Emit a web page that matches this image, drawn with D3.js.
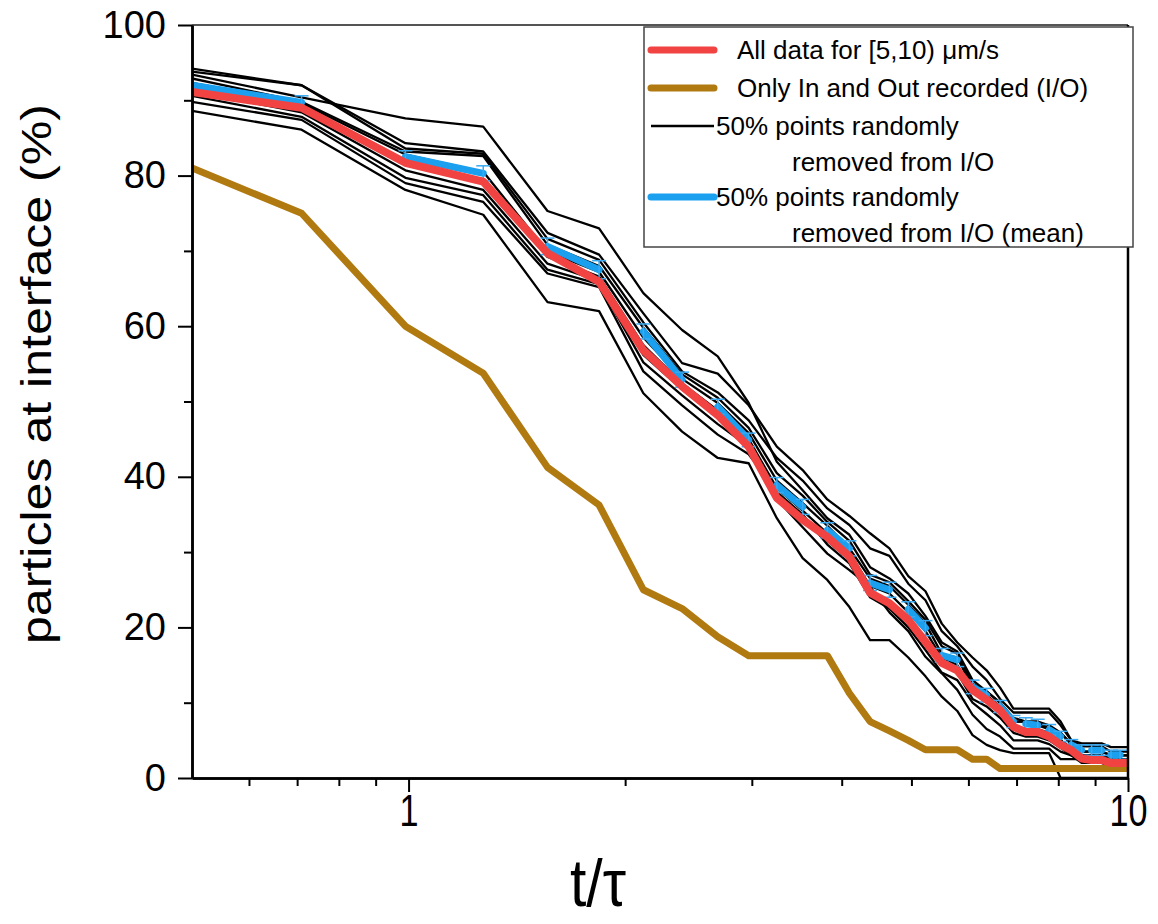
<!DOCTYPE html>
<html>
<head>
<meta charset="utf-8">
<script src="https://cdn.jsdelivr.net/npm/d3@7"></script>
<style>
  body { margin: 0; background: #fff; }
  svg { display: block; }
  text { font-family: "Liberation Sans", Arial, sans-serif; fill: #000; }
</style>
</head>
<body>
<div id="chart"></div>
<script>
// Data________________________________________________________________
// time points t/tau (first and last are the axis edges)
const tValues = [0.5, 0.71, 0.99, 1.27, 1.56, 1.84, 2.12, 2.40, 2.69, 2.97, 3.25, 3.53, 3.82, 4.10, 4.38,
  4.66, 4.95, 5.23, 5.51, 5.79, 6.08, 6.36, 6.64, 6.93, 7.21, 7.49, 7.77, 8.06, 8.34, 8.62, 8.90, 9.19, 9.47, 9.75, 10.0];

const allData = [91.1, 89.0, 81.7, 79.2, 69.7, 65.9, 56.8, 52.0, 48.2, 44.0, 37.2, 34.3, 32.0, 29.4, 24.6,
  23.2, 21.0, 18.1, 15.3, 14.3, 11.7, 10.4, 9.0, 6.8, 6.1, 6.1, 5.5, 4.4, 3.7, 2.6, 2.4, 2.4, 2.0, 2.0, 2.0];

const ioOnly = [81.0, 75.0, 60.0, 53.75, 41.25, 36.25, 25.0, 22.5, 18.75, 16.25, 16.25, 16.25, 16.25, 11.25, 7.5,
  6.25, 5.0, 3.75, 3.75, 3.75, 2.5, 2.5, 1.25, 1.25, 1.25, 1.25, 1.25, 1.25, 1.25, 1.25, 1.25, 1.25, 1.25, 1.25, 1.25];

const removedMean = [92.0, 89.7, 82.5, 80.3, 70.6, 67.5, 59.3, 52.9, 49.3, 44.9, 38.9, 36.0, 32.9, 30.5, 25.9,
  25.0, 22.4, 19.9, 16.3, 15.7, 12.1, 11.0, 9.5, 7.5, 7.2, 7.0, 6.4, 5.5, 4.4, 3.7, 3.7, 3.7, 3.1, 3.1, 3.1];

const removedErr = [null, 0.9, 0.8, 1.0, 1.1, 1.2, 1.0, 1.0, 1.0, 0.9, 1.0, 1.0, 1.0, 1.0, 1.0,
  1.0, 1.0, 1.0, 0.9, 0.9, 0.9, 0.9, 0.8, 0.8, 0.8, 0.8, 0.7, 0.7, 0.7, 0.7, 0.7, 0.7, 0.6, 0.6, null];

// the individual random removals
const removed1 = [94.2, 92.0, 84.3, 83.2, 72.4, 69.5, 61.7, 55.1, 53.7, 49.5, 44.0, 40.9, 37.0, 34.8, 32.5,
  30.5, 26.8, 24.8, 20.5, 18.0, 16.0, 14.3, 12.0, 9.2, 9.2, 9.2, 9.2, 7.5, 5.0, 4.6, 4.6, 4.6, 4.1, 4.1, 4.1];
const removed2 = [93.8, 92.0, 83.6, 82.9, 71.6, 68.8, 60.5, 54.0, 51.2, 47.5, 42.5, 39.5, 35.8, 33.6, 30.5,
  29.5, 25.8, 23.6, 19.5, 17.5, 14.8, 13.0, 10.5, 8.7, 8.7, 8.7, 8.7, 7.0, 5.0, 4.2, 4.2, 4.2, 3.5, 3.5, 3.5];
const removed3 = [93.4, 90.4, 87.6, 86.5, 75.3, 73.0, 64.4, 59.5, 56.0, 49.8, 42.0, 38.2, 34.5, 32.3, 28.0,
  26.5, 24.5, 21.5, 18.0, 16.8, 13.0, 11.5, 10.0, 8.0, 7.5, 7.5, 7.0, 6.0, 4.5, 3.5, 3.5, 3.5, 3.0, 3.0, 3.0];
const removed4 = [92.9, 89.8, 83.2, 82.6, 70.8, 68.0, 59.8, 53.6, 50.5, 46.5, 40.5, 37.5, 34.0, 31.5, 27.0,
  26.0, 23.5, 21.0, 17.5, 16.5, 12.5, 11.5, 10.0, 7.5, 7.5, 7.5, 6.5, 6.0, 4.5, 3.5, 3.5, 3.5, 3.0, 3.0, 3.0];
const removed5 = [92.3, 89.6, 82.8, 80.5, 69.9, 67.2, 58.5, 53.0, 49.8, 45.8, 39.5, 36.5, 33.5, 30.5, 26.5,
  25.5, 23.0, 20.5, 16.5, 16.0, 12.0, 11.0, 9.5, 7.5, 7.5, 7.0, 6.5, 5.0, 4.0, 3.0, 3.0, 3.0, 2.5, 2.5, 2.5];
const removed6 = [91.8, 89.0, 81.5, 79.5, 69.2, 66.6, 57.5, 52.4, 48.8, 45.0, 38.5, 35.5, 32.5, 30.0, 25.5,
  24.5, 22.0, 19.5, 16.0, 15.0, 11.5, 10.5, 9.0, 7.0, 6.5, 6.5, 6.0, 5.0, 4.0, 3.0, 3.0, 3.0, 2.5, 2.5, 2.5];
const removed7 = [91.2, 88.4, 80.7, 78.1, 68.3, 66.0, 56.2, 51.6, 47.9, 44.2, 37.5, 34.8, 31.5, 29.0, 24.5,
  23.5, 21.0, 18.0, 15.0, 14.0, 10.5, 9.5, 8.0, 6.0, 5.5, 5.5, 5.0, 4.0, 3.0, 2.5, 2.5, 2.5, 2.0, 2.0, 2.0];
const removed8 = [90.6, 87.8, 79.7, 77.4, 67.5, 65.6, 55.2, 50.8, 47.0, 44.0, 37.0, 33.3, 29.8, 27.6, 25.4,
  22.0, 19.5, 16.1, 13.9, 11.7, 8.4, 6.5, 5.5, 3.9, 3.9, 3.9, 3.9, 2.5, 2.5, 2.5, 2.5, 2.5, 2.5, 2.5, 2.5];
const removed9 = [89.8, 87.4, 79.0, 76.5, 67.0, 65.2, 54.0, 49.5, 45.6, 43.0, 38.0, 35.0, 31.0, 28.5, 24.0,
  22.5, 20.0, 17.0, 14.0, 13.0, 10.0, 8.5, 7.0, 5.0, 5.0, 5.0, 4.5, 3.5, 3.0, 2.0, 2.0, 2.0, 1.5, 1.5, 1.5];
const removed10 = [88.6, 86.1, 78.1, 74.8, 63.2, 62.0, 51.1, 46.0, 42.5, 41.8, 34.5, 29.2, 26.3, 22.7, 18.3,
  18.3, 16.0, 13.5, 10.8, 8.9, 5.7, 4.4, 3.7, 3.3, 3.3, 3.3, 3.3, 0, 0, 0, 0, 0, 0, 0, 0];
const removedRuns = [removed1, removed2, removed3, removed4, removed5, removed6, removed7, removed8, removed9, removed10];

// ticks and labels
const yMajorTicks = [0, 20, 40, 60, 80, 100];
const yMinorTicks = [10, 30, 50, 70, 90];
const xMajorTicks = [1, 10];
const xMinorTicks = [0.6, 0.7, 0.8, 0.9, 2, 3, 4, 5, 6, 7, 8, 9];
const legendLabels = [
  ['All data for [5,10) μm/s'],
  ['Only In and Out recorded (I/O)'],
  ['50% points randomly', 'removed from I/O'],
  ['50% points randomly', 'removed from I/O (mean)']
];

// Layout______________________________________________________________
const svgW = 1158, svgH = 924;
const plotL = 192, plotR = 1128, plotT = 25, plotB = 778;
const colRed = '#f24343', colGold = '#b07a10', colBlue = '#1ba0ef', colBlack = '#000';

const svg = d3.select('#chart').append('svg')
  .attr('width', svgW)
  .attr('height', svgH);

const x = d3.scaleLog().domain([0.5, 10]).range([plotL, plotR]);
const y = d3.scaleLinear().domain([0, 100]).range([plotB, plotT]);

svg.append('defs').append('clipPath').attr('id', 'plot-clip')
  .append('rect')
  .attr('x', plotL).attr('y', plotT - 5)
  .attr('width', plotR - plotL).attr('height', plotB - plotT + 5);

const plot = svg.append('g').attr('clip-path', 'url(#plot-clip)');

const line = d3.line()
  .defined(d => d[1] !== null)
  .x(d => x(d[0]))
  .y(d => y(d[1]));

const pts = vals => tValues.map((t, i) => [t, vals[i]]);

// Lines________________________________________________________________
plot.selectAll('.run')
  .data(removedRuns)
  .enter()
  .append('path')
  .attr('class', 'run')
  .attr('d', d => line(pts(d)))
  .attr('fill', 'none')
  .attr('stroke', colBlack)
  .attr('stroke-width', 2.3)
  .attr('stroke-linejoin', 'round');

plot.append('path')
  .attr('d', line(pts(ioOnly)))
  .attr('fill', 'none')
  .attr('stroke', colGold)
  .attr('stroke-width', 7)
  .attr('stroke-linejoin', 'round');

// the mean is drawn as short pieces, point 2i to point 2i+1
const meanPairs = d3.range(0, tValues.length - 1, 2).map(i => [i, i + 1]);
plot.selectAll('.mean-seg')
  .data(meanPairs)
  .enter()
  .append('path')
  .attr('class', 'mean-seg')
  .attr('d', p => line(p.map(i => [tValues[i], removedMean[i]])))
  .attr('fill', 'none')
  .attr('stroke', colBlue)
  .attr('stroke-width', 7)
  .attr('stroke-linecap', 'round');

const errData = tValues.map((t, i) => ({ t: t, v: removedMean[i], e: removedErr[i] }))
  .filter(d => d.e !== null);
const errG = plot.append('g').attr('stroke', '#3aaaf2').attr('stroke-width', 1.5);
errData.forEach(d => {
  const cx = x(d.t);
  errG.append('line').attr('x1', cx).attr('x2', cx).attr('y1', y(d.v - d.e)).attr('y2', y(d.v + d.e));
  [d.v - d.e, d.v + d.e].forEach(v => {
    errG.append('line').attr('x1', cx - 7).attr('x2', cx + 7).attr('y1', y(v)).attr('y2', y(v));
  });
});

plot.append('path')
  .attr('d', line(pts(allData)))
  .attr('fill', 'none')
  .attr('stroke', colRed)
  .attr('stroke-width', 8)
  .attr('stroke-linejoin', 'round');

// Axes_________________________________________________________________
// frame
svg.append('line').attr('x1', plotL).attr('x2', plotR).attr('y1', plotT).attr('y2', plotT)
  .attr('stroke', '#555').attr('stroke-width', 2);
svg.append('line').attr('x1', plotR).attr('x2', plotR).attr('y1', plotT).attr('y2', plotB)
  .attr('stroke', '#000').attr('stroke-width', 2.5);

const yAxis = svg.append('g')
  .attr('transform', `translate(${plotL},0)`)
  .call(d3.axisLeft(y).tickValues(yMajorTicks).tickSize(14).tickPadding(12).tickSizeOuter(0));
svg.append('g')
  .attr('transform', `translate(${plotL},0)`)
  .call(d3.axisLeft(y).tickValues(yMinorTicks).tickSize(8).tickFormat('').tickSizeOuter(0));

const xAxis = svg.append('g')
  .attr('transform', `translate(0,${plotB})`)
  .call(d3.axisBottom(x).tickValues(xMajorTicks).tickSize(14).tickPadding(2).tickSizeOuter(0)
    .tickFormat(d3.format('d')));
svg.append('g')
  .attr('transform', `translate(0,${plotB})`)
  .call(d3.axisBottom(x).tickValues(xMinorTicks).tickSize(8).tickFormat('').tickSizeOuter(0));

svg.selectAll('.domain').attr('stroke', '#000').attr('stroke-width', 2.5);
svg.selectAll('.tick line').attr('stroke', '#000').attr('stroke-width', 2);

yAxis.selectAll('text')
  .attr('font-size', 38)
  .style('font-family', '"Liberation Sans", Arial, sans-serif');

// narrow, tall tick labels on the time axis
xAxis.selectAll('text')
  .attr('font-size', 45)
  .style('font-family', '"Liberation Sans", Arial, sans-serif')
  .attr('transform', 'scale(0.76,1)');

// axis titles
svg.append('text')
  .attr('transform', 'translate(51,374) rotate(-90)')
  .attr('text-anchor', 'middle')
  .attr('font-size', 43)
  .attr('textLength', 540)
  .attr('lengthAdjust', 'spacingAndGlyphs')
  .text('particles at interface (%)');

svg.append('text')
  .attr('x', 598)
  .attr('y', 906)
  .attr('text-anchor', 'middle')
  .attr('font-size', 66)
  .attr('textLength', 56)
  .attr('lengthAdjust', 'spacingAndGlyphs')
  .text('t/τ');

// Legend_______________________________________________________________
const legend = svg.append('g');
legend.append('rect')
  .attr('x', 644).attr('y', 27)
  .attr('width', 489).attr('height', 220)
  .attr('fill', '#fff')
  .attr('stroke', '#444')
  .attr('stroke-width', 1.5);

const legendRows = [
  { color: colRed, w: 7, y: 50, tx: 737 },
  { color: colGold, w: 7, y: 88, tx: 737 },
  { color: colBlack, w: 2.3, y: 126, tx: 716 },
  { color: colBlue, w: 7, y: 197, tx: 716 }
];
legendRows.forEach((r, i) => {
  legend.append('line')
    .attr('x1', 651).attr('x2', 714)
    .attr('y1', r.y).attr('y2', r.y)
    .attr('stroke', r.color)
    .attr('stroke-width', r.w)
    .attr('stroke-linecap', r.w > 3 ? 'round' : 'butt');
  legendLabels[i].forEach((txt, j) => {
    legend.append('text')
      .attr('x', j === 0 ? r.tx : 792)
      .attr('y', r.y + 9 + j * 36)
      .attr('font-size', 26)
      .text(txt);
  });
});
</script>
</body>
</html>
